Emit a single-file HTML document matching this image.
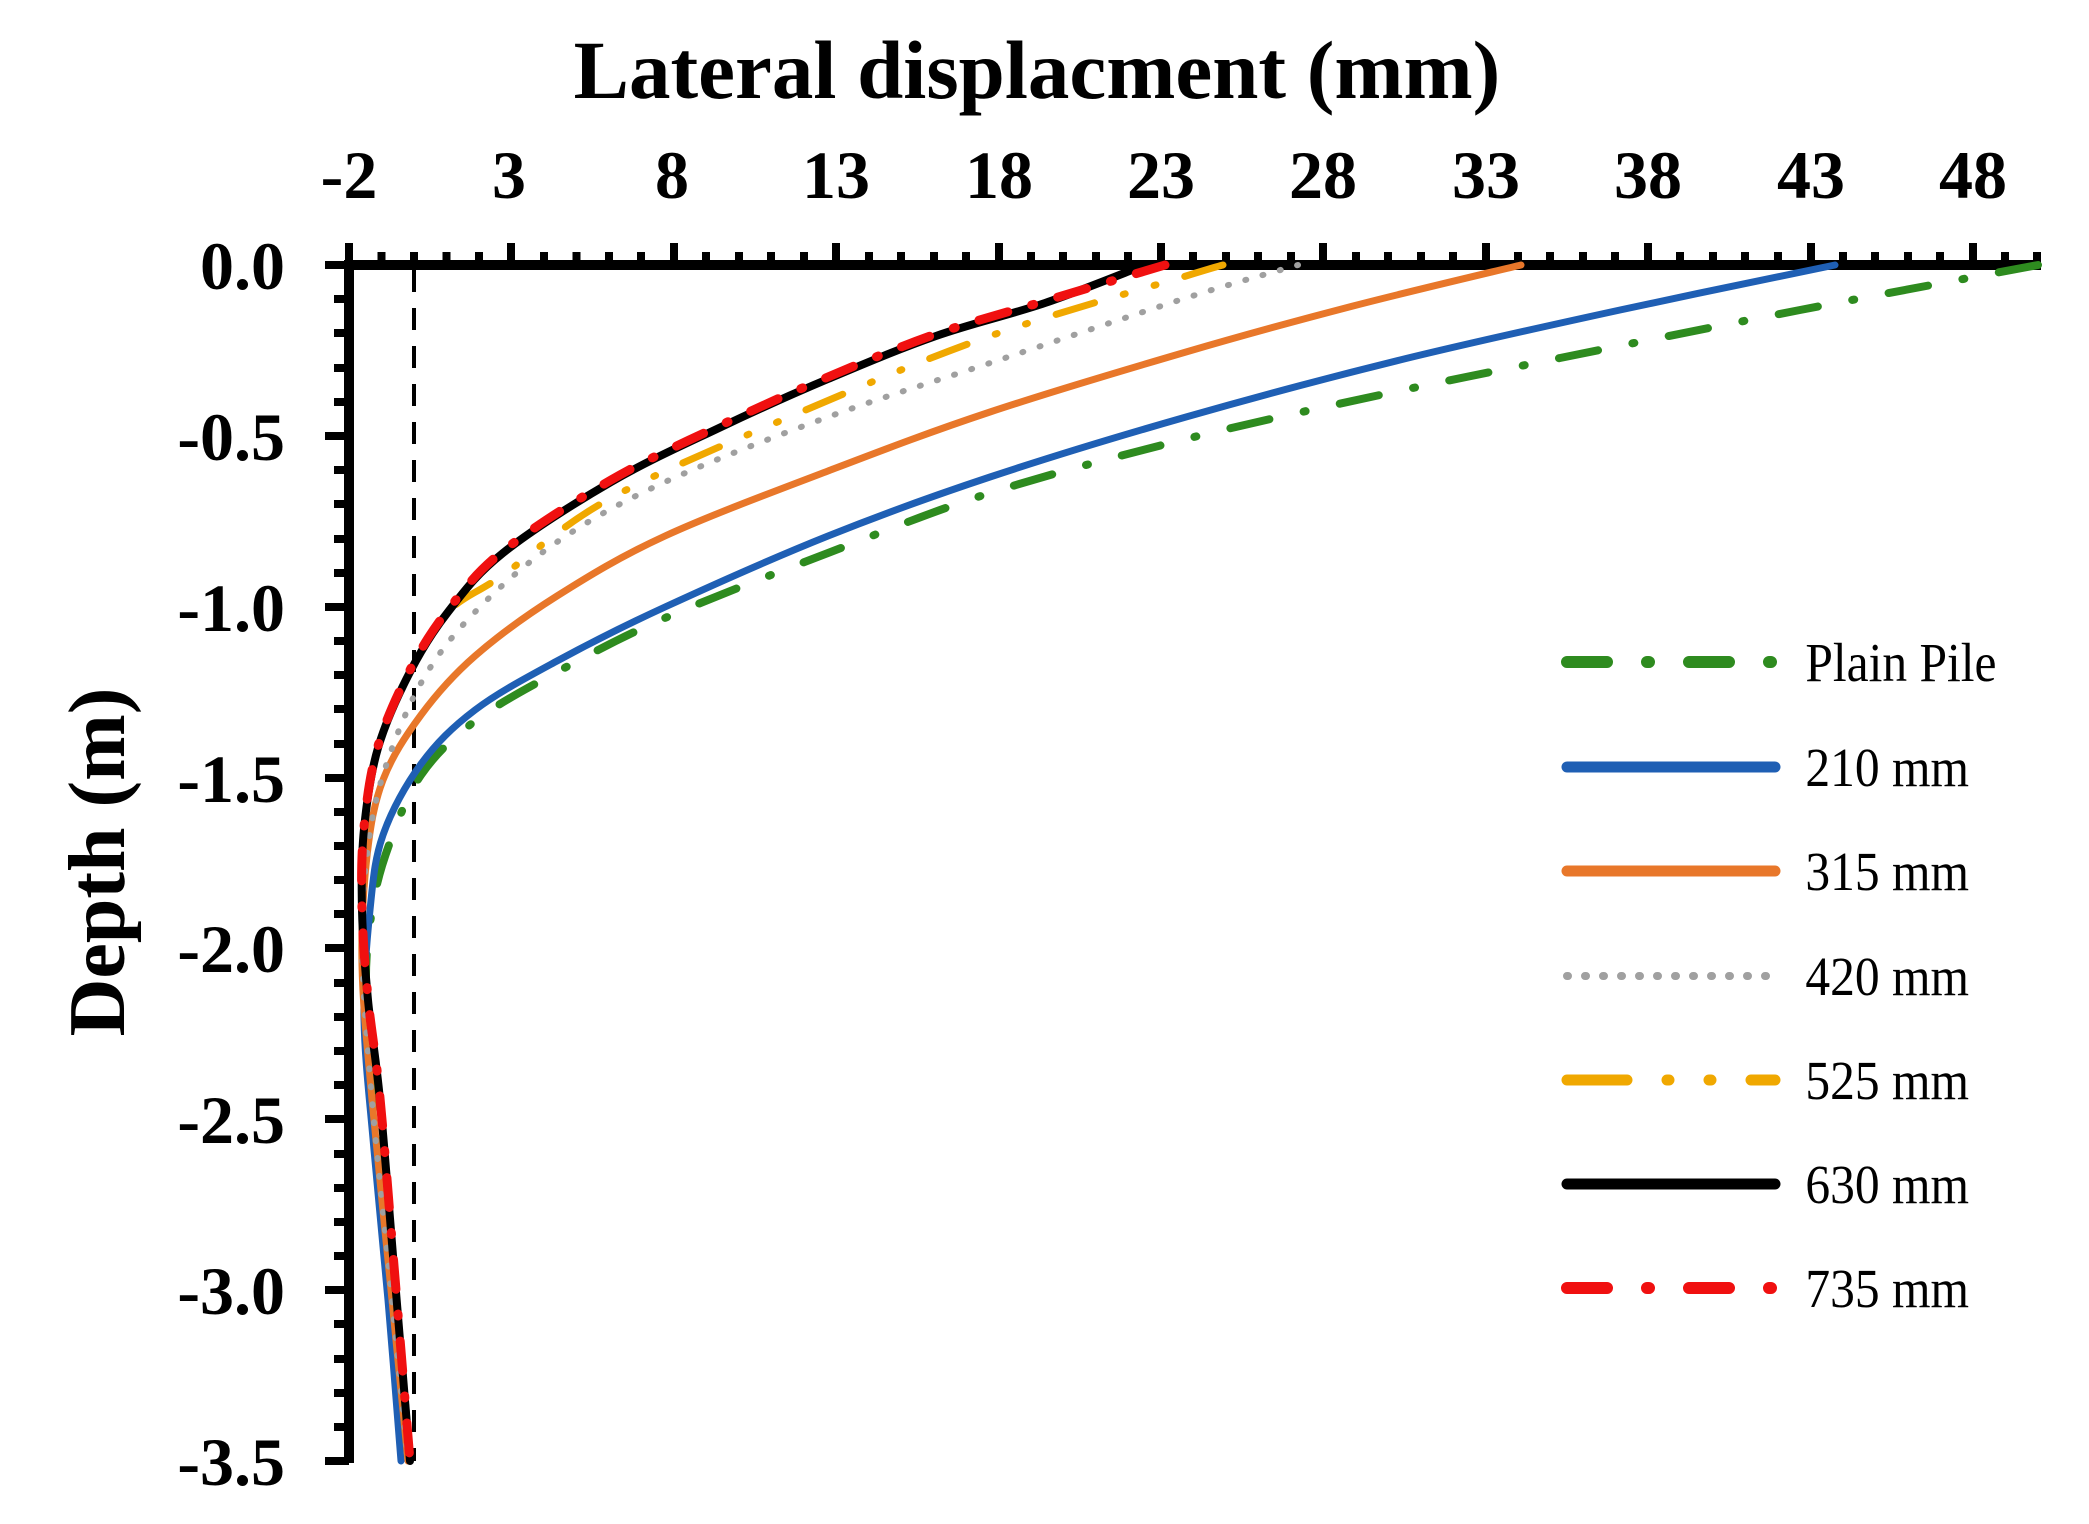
<!DOCTYPE html>
<html><head><meta charset="utf-8"><style>
html,body{margin:0;padding:0;background:#fff;}
svg{display:block;}
text{font-family:"Liberation Serif",serif;}
</style></head><body>
<svg id="chart" width="2089" height="1524" viewBox="0 0 2089 1524" xmlns="http://www.w3.org/2000/svg">
<rect width="2089" height="1524" fill="#fff"/>
<text x="1037" y="98" font-size="83" font-weight="bold" text-anchor="middle">Lateral displacment (mm)</text>
<text transform="translate(124,862) rotate(-90)" font-size="80" font-weight="bold" text-anchor="middle">Depth (m)</text>
<g font-size="68" font-weight="bold" text-anchor="middle">
<text x="349" y="198">-2</text><text x="509" y="198">3</text><text x="672" y="198">8</text><text x="836" y="198">13</text><text x="999" y="198">18</text><text x="1161" y="198">23</text><text x="1323" y="198">28</text><text x="1486" y="198">33</text><text x="1648" y="198">38</text><text x="1811" y="198">43</text><text x="1973" y="198">48</text>
</g>
<g font-size="68" font-weight="bold" text-anchor="end">
<text x="285" y="289">0.0</text><text x="285" y="460">-0.5</text><text x="285" y="631">-1.0</text><text x="285" y="802">-1.5</text><text x="285" y="972">-2.0</text><text x="285" y="1143">-2.5</text><text x="285" y="1314">-3.0</text><text x="285" y="1485">-3.5</text>
</g>
<path stroke="#000" stroke-width="8" fill="none" d="M381.5 265V252M414 265V252M446.5 265V252M479 265V252M544 265V252M576.5 265V252M609 265V252M641 265V252M706 265V252M739 265V252M771 265V252M804 265V252M869 265V252M901 265V252M934 265V252M966 265V252M1031 265V252M1063 265V252M1096 265V252M1128 265V252M1193 265V252M1226 265V252M1258 265V252M1291 265V252M1356 265V252M1388 265V252M1421 265V252M1453 265V252M1518 265V252M1550 265V252M1583 265V252M1615 265V252M1680 265V252M1713 265V252M1745 265V252M1778 265V252M1843 265V252M1875 265V252M1908 265V252M1940 265V252M2005 265V252M2037 265V252"/>
<path stroke="#000" stroke-width="8" fill="none" d="M349 265V243M511 265V243M674 265V243M836 265V243M999 265V243M1161 265V243M1323 265V243M1486 265V243M1648 265V243M1811 265V243M1973 265V243"/>
<path stroke="#000" stroke-width="8" fill="none" d="M349 299H334M349 333H334M349 368H334M349 402H334M349 470H334M349 504H334M349 539H334M349 573H334M349 641H334M349 675H334M349 709H334M349 744H334M349 812H334M349 846H334M349 880H334M349 914H334M349 983H334M349 1017H334M349 1051H334M349 1085H334M349 1154H334M349 1188H334M349 1222H334M349 1256H334M349 1324H334M349 1359H334M349 1393H334M349 1427H334"/>
<path stroke="#000" stroke-width="8" fill="none" d="M349 265H325M349 436H325M349 607H325M349 778H325M349 948H325M349 1119H325M349 1290H325M349 1461H325"/>
<line x1="414" y1="270" x2="414" y2="1461" stroke="#000" stroke-width="4" stroke-dasharray="22,16"/>
<line x1="344" y1="265" x2="2041" y2="265" stroke="#000" stroke-width="10"/>
<line x1="349" y1="260" x2="349" y2="1463" stroke="#000" stroke-width="10"/>
<g fill="none" stroke-linecap="round" stroke-linejoin="round">
<polyline class="s" stroke="#2e8b1f" stroke-width="8" stroke-dasharray="40,35,2,35" points="2038,265 1800,310 1560,358 1380,395 1186,439 990,493 828,553 665,618 557,672 475,721 421,775 389,845 372,910 366,990 376,1100 394,1280 410,1461"/>
<polyline class="s" stroke="#1f5fb4" stroke-width="7" points="1835,265 1620,310 1400,360 1186,417 990,477 828,536 665,607 557,661 475,710 421,764 383,835 370,910 364,1019 374,1150 388,1300 401,1461"/>
<polyline class="s" stroke="#e8772a" stroke-width="7" points="1521,265 1353,306 1186,352 990,412 828,471 665,536 557,596 475,656 421,715 383,780 367,856 362,965 372,1100 390,1280 408,1461"/>
<polyline class="s" stroke="#a0a0a0" stroke-width="6" stroke-dasharray="1,17" points="1298,265 1186,298 990,363 828,417 665,482 557,542 475,612 421,683 383,775 367,856 362,950 372,1100 390,1280 408,1461"/>
<polyline class="s" stroke="#f0a800" stroke-width="7" stroke-dasharray="40,30,2,30,2,30" points="1223,265 1186,276 990,336 801,412 611,498 503,575 448,612 410,672 378,748 364,829 362,910 368,1000 380,1100 395,1280 410,1461"/>
<polyline class="s" stroke="#000" stroke-width="8" points="1145,265 1045,303 936,336 828,379 719,428 611,482 503,553 448,612 410,672 378,748 364,829 362,910 368,1000 380,1100 395,1280 410,1461"/>
<polyline class="s" stroke="#f01010" stroke-width="9" stroke-dasharray="30,25,2,25" points="1165,265 1045,301 936,334 828,377 719,426 611,480 503,551 448,610 410,670 378,746 364,827 362,908 368,998 380,1098 395,1278 410,1461"/>
</g>
<g fill="none" stroke-linecap="round">
<line x1="1567" y1="662" x2="1775" y2="662" stroke="#2e8b1f" stroke-width="12" stroke-dasharray="40,40,2,40"/>
<line x1="1567" y1="767" x2="1775" y2="767" stroke="#1f5fb4" stroke-width="11"/>
<line x1="1567" y1="871" x2="1775" y2="871" stroke="#e8772a" stroke-width="11"/>
<line x1="1567" y1="976" x2="1775" y2="976" stroke="#a0a0a0" stroke-width="8" stroke-dasharray="1,17"/>
<line x1="1567" y1="1080" x2="1775" y2="1080" stroke="#f0a800" stroke-width="11" stroke-dasharray="60,40,2,40,2,40"/>
<line x1="1567" y1="1184" x2="1775" y2="1184" stroke="#000" stroke-width="11"/>
<line x1="1567" y1="1288" x2="1775" y2="1288" stroke="#f01010" stroke-width="12" stroke-dasharray="40,40,2,40"/>
</g>
<g font-size="55" transform="scale(0.9,1)">
<text x="2006" y="681">Plain Pile</text>
<text x="2006" y="786">210 mm</text>
<text x="2006" y="890">315 mm</text>
<text x="2006" y="995">420 mm</text>
<text x="2006" y="1099">525 mm</text>
<text x="2006" y="1203">630 mm</text>
<text x="2006" y="1307">735 mm</text>
</g>
</svg>
<script>
(function(){
var ns="http://www.w3.org/2000/svg";
var pls=document.querySelectorAll("polyline.s");
for(var i=0;i<pls.length;i++){
 var pl=pls[i];
 var pts=pl.getAttribute("points").trim().split(/\s+/).map(function(s){var a=s.split(",");return [+a[0],+a[1]];});
 var d="M"+pts[0][0]+" "+pts[0][1];
 for(var k=0;k<pts.length-1;k++){
  var p0=pts[k>0?k-1:0],p1=pts[k],p2=pts[k+1],p3=pts[k+2<pts.length?k+2:k+1];
  var c1x=p1[0]+(p2[0]-p0[0])/6,c1y=p1[1]+(p2[1]-p0[1])/6;
  var c2x=p2[0]-(p3[0]-p1[0])/6,c2y=p2[1]-(p3[1]-p1[1])/6;
  d+=" C"+c1x.toFixed(1)+" "+c1y.toFixed(1)+" "+c2x.toFixed(1)+" "+c2y.toFixed(1)+" "+p2[0]+" "+p2[1];
 }
 var p=document.createElementNS(ns,"path");
 for(var j=0;j<pl.attributes.length;j++){var at=pl.attributes[j];if(at.name!="points"&&at.name!="class")p.setAttribute(at.name,at.value);}
 p.setAttribute("d",d);
 pl.parentNode.replaceChild(p,pl);
}
})();
</script>
</body></html>
